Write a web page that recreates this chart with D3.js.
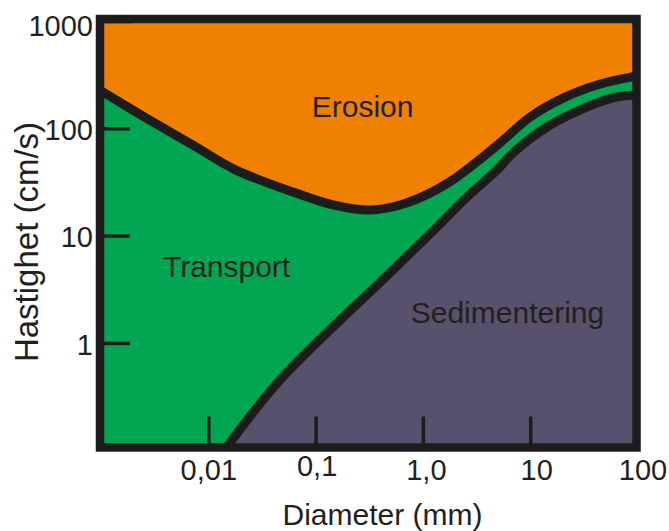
<!DOCTYPE html>
<html><head><meta charset="utf-8">
<script src="https://cdn.jsdelivr.net/npm/d3@7"></script>
<style>
html,body{margin:0;padding:0;background:#fff;}
svg{display:block;font-family:"Liberation Sans",Arial,sans-serif;}
</style></head>
<body>
<svg id="c" width="669" height="531"></svg>
<script>
// Tick values and labels
const xTicks = [0.01, 0.1, 1, 10, 100];
const xTickLabels = ["0,01", "0,1", "1,0", "10", "100"];
const yTicks = [1, 10, 100, 1000];
const yTickLabels = ["1", "10", "100", "1000"];

// Erosion boundary (diameter mm, velocity cm/s)
const erosionD = [0.001, 0.00262, 0.00767, 0.0181, 0.0656, 0.145, 0.321, 0.612, 1.16, 2.08, 3.63, 5.23, 9.96, 20.2, 42, 88.9, 100];
const erosionV = [223, 125, 67, 40.8, 24.9, 19.3, 17.3, 19.3, 24.9, 35.2, 54, 73, 127, 191, 253, 301, 306];

// Sedimentation boundary
const sedD = [0.0142, 0.0466, 0.526, 1.35, 2.58, 4.91, 6.92, 14.4, 29.1, 59.1, 100];
const sedV = [0.1, 0.451, 4.78, 12.0, 22.9, 40.9, 58.9, 103, 148, 192, 204];

// Region labels
const regions = [
  {name: "Erosion", d: 0.274, v: 127},
  {name: "Transport", d: 0.0148, v: 4.1},
  {name: "Sedimentering", d: 6.14, v: 1.53}
];

const svg = d3.select("#c");
const x = d3.scaleLog().domain([0.001, 100]).range([101, 637.5]);
const y = d3.scaleLog().domain([0.1, 1000]).range([450.2, 21]);

const L = 100, R = 636.5, T = 19, B = 447.5;
const ORANGE = "#F08000", GREEN = "#00A651", PURPLE = "#58516B", INK = "#1c1c1c";

svg.append("clipPath").attr("id", "clip")
  .append("rect").attr("x", L).attr("y", T).attr("width", R - L).attr("height", B - T);

const plot = svg.append("g").attr("clip-path", "url(#clip)");
plot.append("rect").attr("x", L).attr("y", T).attr("width", R - L).attr("height", B - T).attr("fill", ORANGE);

const ero = erosionD.map((d, i) => [d, erosionV[i]]);
const sed = sedD.map((d, i) => [d, sedV[i]]);
const curve = d3.curveCatmullRom.alpha(0.5);

const area = d3.area().x(d => x(d[0])).y0(B + 20).y1(d => y(d[1])).curve(curve);
const line = d3.line().x(d => x(d[0])).y(d => y(d[1])).curve(curve);

plot.append("path").datum(ero).attr("d", area).attr("fill", GREEN);
plot.append("path").datum(sed).attr("d", area).attr("fill", PURPLE);
plot.append("path").datum(ero).attr("d", line).attr("fill", "none").attr("stroke", INK).attr("stroke-width", 9);
plot.append("path").datum(sed).attr("d", line).attr("fill", "none").attr("stroke", INK).attr("stroke-width", 9);

// Axes
const gx = svg.append("g").attr("transform", `translate(0,${B})`)
  .call(d3.axisBottom(x).tickValues(xTicks).tickFormat((d, i) => xTickLabels[i])
    .tickSizeInner(-31).tickSizeOuter(0).tickPadding(12));
gx.select(".domain").remove();
gx.selectAll(".tick line").attr("stroke", INK).attr("stroke-width", 3.5);
const xDx = [0, 1, 3, 6, 5], xDy = [0, -4, 0, 0, 0];
gx.selectAll(".tick text").attr("font-size", 29).attr("fill", "#231f20")
  .attr("font-family", "Liberation Sans, Arial, sans-serif")
  .attr("dx", (d, i) => xDx[i]).attr("transform", (d, i) => `translate(0,${xDy[i]})`);

const gy = svg.append("g").attr("transform", `translate(${L},0)`)
  .call(d3.axisLeft(y).tickValues(yTicks).tickFormat((d, i) => yTickLabels[i])
    .tickSizeInner(-30).tickSizeOuter(0).tickPadding(7));
gy.select(".domain").remove();
gy.selectAll(".tick line").attr("stroke", INK).attr("stroke-width", 3.5);
gy.selectAll(".tick text").attr("font-size", 29).attr("fill", "#231f20")
  .attr("font-family", "Liberation Sans, Arial, sans-serif")
  .attr("transform", (d, i) => `translate(0,${d === 1000 ? 5 : 2})`);

// Frame
svg.append("rect").attr("x", L).attr("y", T).attr("width", R - L).attr("height", B - T)
  .attr("fill", "none").attr("stroke", INK).attr("stroke-width", 8.5);

// Region labels
svg.selectAll("text.region").data(regions).join("text").attr("class", "region")
  .attr("x", d => x(d.d)).attr("y", d => y(d.v))
  .attr("text-anchor", "middle").attr("font-size", 30).attr("fill", "#231f20")
  .text(d => d.name);

// Axis titles
svg.append("text").attr("x", 382.5).attr("y", 525).attr("text-anchor", "middle")
  .attr("font-size", 30).attr("fill", "#231f20").text("Diameter (mm)");
svg.append("text").attr("transform", "translate(38,242) rotate(-90)").attr("text-anchor", "middle")
  .attr("font-size", 33).attr("fill", "#231f20").text("Hastighet (cm/s)");
</script>
</body></html>
